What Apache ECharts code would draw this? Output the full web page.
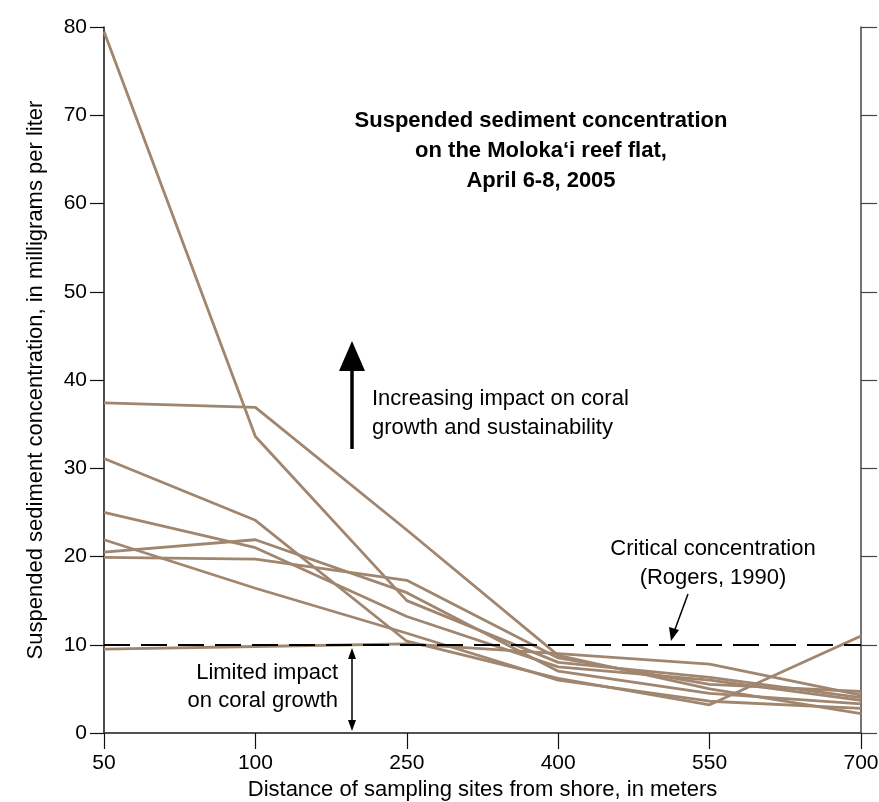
<!DOCTYPE html>
<html lang="en">
<head>
<meta charset="utf-8" />
<title>Suspended sediment concentration</title>
<style>
  html, body { margin: 0; padding: 0; background: #fff; }
  #main { width: 879px; height: 802px; }
</style>
</head>
<body>
<div id="main"></div>
<script src="https://cdn.jsdelivr.net/npm/echarts@6/dist/echarts.min.js"></script>
<script>
// distance of sampling sites from shore (m), equally spaced on the axis
const sites = ['50', '100', '250', '400', '550', '700'];
const yTicks = { min: 0, max: 80, interval: 10 };
const critical = 10; // Rogers, 1990

// one run of samples per line, mg/L
const runA = [79.5, 33.6, 15.0, 8.0, 6.3, 4.0];
const runB = [37.4, 36.9, 23.0, 8.8, 5.0, 2.2];
const runC = [31.1, 24.1, 10.4, 6.2, 3.2, 11.0];
const runD = [25.0, 21.0, 13.2, 7.5, 6.0, 3.7];
const runE = [21.9, 16.4, 11.3, 6.0, 3.6, 2.8];
const runF = [19.9, 19.7, 17.3, 8.5, 5.5, 4.7];
const runG = [20.5, 21.9, 15.9, 7.0, 4.5, 3.3];
const runH = [9.5, 9.8, 10.1, 9.0, 7.8, 4.3];

const runs = [runA, runB, runC, runD, runE, runF, runG, runH];

const font = '"Liberation Sans", Arial, Helvetica, sans-serif';
const lineColor = '#a0866f';

const chart = echarts.init(document.getElementById('main'));

const series = runs.map((d, i) => ({
  type: 'line',
  data: d,
  symbol: 'none',
  silent: true,
  lineStyle: { color: lineColor, width: 2.8 },
  z: 2,
  markLine: i === 0 ? {
    silent: true,
    symbol: 'none',
    label: { show: false },
    lineStyle: { color: '#000', width: 2, type: [26, 11] },
    data: [{ yAxis: critical }]
  } : undefined
}));

const option = {
  animation: false,
  textStyle: { fontFamily: font },
  grid: { left: 104, right: 18, top: 27, bottom: 69, containLabel: false, outerBoundsMode: 'none' },
  xAxis: [{
    type: 'category',
    data: sites,
    boundaryGap: false,
    position: 'bottom',
    axisLine: { lineStyle: { color: '#111', width: 1.5 } },
    axisTick: { length: 16, lineStyle: { color: '#111', width: 1.2 } },
    axisLabel: { color: '#000', fontSize: 21, margin: 20, fontFamily: font },
    name: 'Distance of sampling sites from shore, in meters',
    nameLocation: 'middle',
    nameGap: 46,
    nameTextStyle: { color: '#000', fontSize: 22, fontFamily: font }
  }, {
    type: 'category',
    data: sites,
    boundaryGap: false,
    position: 'top',
    axisLine: { lineStyle: { color: '#555', width: 1.5 } },
    axisTick: { show: false },
    axisLabel: { show: false }
  }],
  yAxis: [{
    type: 'value',
    min: yTicks.min, max: yTicks.max, interval: yTicks.interval,
    axisLine: { show: true, lineStyle: { color: '#111', width: 1.5 } },
    axisTick: { show: true, length: 14, lineStyle: { color: '#111', width: 1.2 } },
    splitLine: { show: false },
    axisLabel: { color: '#000', fontSize: 21, margin: 17, fontFamily: font },
    name: 'Suspended sediment concentration, in milligrams per liter',
    nameLocation: 'middle',
    nameGap: 57,
    nameTextStyle: { color: '#000', fontSize: 22, fontFamily: font }
  }, {
    type: 'value',
    position: 'right',
    min: yTicks.min, max: yTicks.max, interval: yTicks.interval,
    axisLine: { show: true, lineStyle: { color: '#444', width: 1.5 } },
    axisTick: { show: true, length: 16, lineStyle: { color: '#444', width: 1.2 } },
    splitLine: { show: false },
    axisLabel: { show: false }
  }],
  series: series,
  graphic: [
    {
      type: 'text', x: 541, y: 106, z: 10,
      style: {
        text: 'Suspended sediment concentration\non the Moloka\u2018i reef flat,\nApril 6-8, 2005',
        align: 'center', verticalAlign: 'top', lineHeight: 30,
        font: 'bold 22px ' + font, fill: '#000'
      }
    },
    // big up arrow
    { type: 'line', z: 10, shape: { x1: 352, y1: 366, x2: 352, y2: 449 }, style: { stroke: '#000', lineWidth: 3.5 } },
    { type: 'polygon', z: 10, shape: { points: [[352, 341], [339, 371], [365, 371]] }, style: { fill: '#000' } },
    {
      type: 'text', x: 372, y: 384, z: 10,
      style: {
        text: 'Increasing impact on coral\ngrowth and sustainability',
        align: 'left', verticalAlign: 'top', lineHeight: 29,
        font: '22px ' + font, fill: '#000'
      }
    },
    // critical concentration label + pointer
    {
      type: 'text', x: 713, y: 534, z: 10,
      style: {
        text: 'Critical concentration\n(Rogers, 1990)',
        align: 'center', verticalAlign: 'top', lineHeight: 29,
        font: '22px ' + font, fill: '#000'
      }
    },
    { type: 'line', z: 10, shape: { x1: 688, y1: 594, x2: 674, y2: 632 }, style: { stroke: '#000', lineWidth: 1.5 } },
    { type: 'polygon', z: 10, shape: { points: [[671, 641], [669, 627], [679, 630]] }, style: { fill: '#000' } },
    // limited impact label + double arrow
    {
      type: 'text', x: 338, y: 659, z: 10,
      style: {
        text: 'Limited impact\non coral growth',
        align: 'right', verticalAlign: 'top', lineHeight: 28,
        font: '22px ' + font, fill: '#000'
      }
    },
    { type: 'line', z: 10, shape: { x1: 352, y1: 654, x2: 352, y2: 726 }, style: { stroke: '#000', lineWidth: 1.5 } },
    { type: 'polygon', z: 10, shape: { points: [[352, 648], [348, 659], [356, 659]] }, style: { fill: '#000' } },
    { type: 'polygon', z: 10, shape: { points: [[352, 731], [348, 720], [356, 720]] }, style: { fill: '#000' } }
  ]
};

chart.setOption(option);
</script>
</body>
</html>
